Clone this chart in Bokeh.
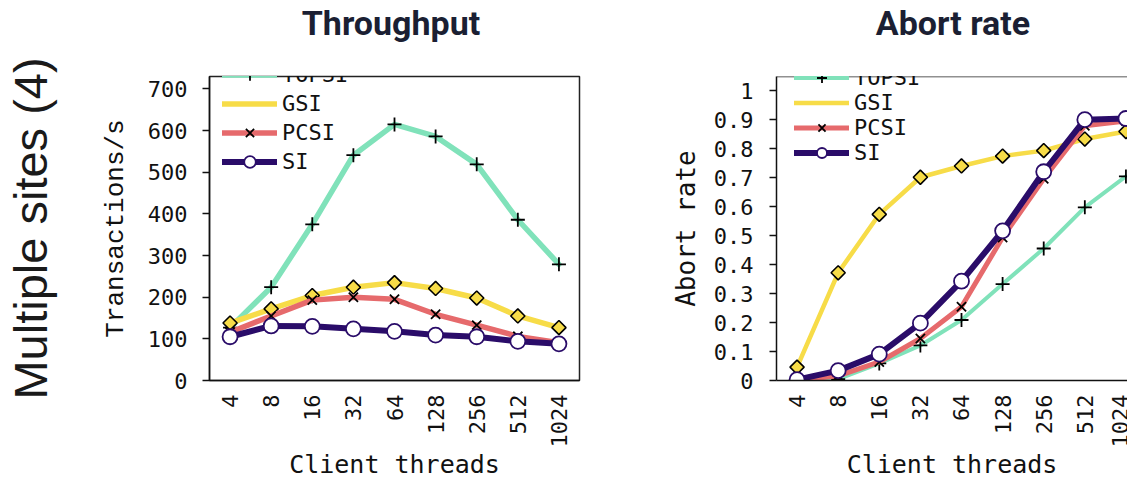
import math
from bokeh.plotting import figure
from bokeh.layouts import row, column
from bokeh.models import (FixedTicker, Legend, LegendItem, Span, Div,
                          CustomJSTickFormatter, ColumnDataSource)
from bokeh.embed import file_html
from bokeh.resources import INLINE

# ---------------- data ----------------
threads = ["4", "8", "16", "32", "64", "128", "256", "512", "1024"]
series = ["TOPSI", "GSI", "PCSI", "SI"]
titles = ["Throughput", "Abort rate"]

tp_topsi = [127, 224, 375, 541, 615, 586, 519, 386, 279]
tp_gsi = [138, 172, 204, 224, 235, 221, 198, 155, 127]
tp_pcsi = [116, 155, 193, 200, 195, 159, 133, 106, 91]
tp_si = [105, 131, 130, 124, 118, 109, 105, 94, 88]

ab_topsi = [0.0, 0.005, 0.059, 0.121, 0.209, 0.333, 0.456, 0.598, 0.705]
ab_gsi = [0.046, 0.372, 0.574, 0.702, 0.741, 0.775, 0.794, 0.834, 0.860]
ab_pcsi = [0.0, 0.016, 0.064, 0.145, 0.255, 0.494, 0.697, 0.880, 0.896]
ab_si = [0.003, 0.034, 0.091, 0.198, 0.343, 0.517, 0.721, 0.901, 0.905]

tp_ticks = [0, 100, 200, 300, 400, 500, 600, 700]
ab_ticks = [0, 0.1, 0.2, 0.3, 0.4, 0.5, 0.6, 0.7, 0.8, 0.9, 1.0]

# ---------------- style ----------------
COLORS = {"TOPSI": "#80e2ba", "GSI": "#f7dc48", "PCSI": "#e66a6c", "SI": "#2a0c69"}
MONO = "DejaVu Sans Mono"
INK = "#111111"
TITLE_INK = "#1b1f33"
idx = list(range(len(threads)))
TOP = 52          # height of the title strip
H = 482 - TOP     # height of the plot row


def hide_title(p):
    p.title.text_font_size = "0px"
    p.title.standoff = 0
    p.title.visible = False


def style_axes(p, y_ticks, y_formatter=None, y_label="", y_label_font=MONO,
               y_label_standoff=14, y_tick_standoff=15):
    xa = p.below[0]
    xa.ticker = FixedTicker(ticks=idx)
    xa.major_label_overrides = {i: t for i, t in enumerate(threads)}
    xa.major_label_orientation = math.pi / 2
    xa.major_tick_out = 0
    xa.major_tick_in = 0
    xa.minor_tick_line_color = None
    xa.major_label_standoff = 14
    xa.major_label_text_font = MONO
    xa.major_label_text_font_size = "22px"
    xa.major_label_text_color = INK
    xa.axis_line_color = "#111111"
    xa.axis_line_width = 1.5
    xa.axis_label = "Client threads"
    xa.axis_label_text_font = MONO
    xa.axis_label_text_font_size = "25px"
    xa.axis_label_text_font_style = "normal"
    xa.axis_label_text_color = INK
    xa.axis_label_standoff = 0

    ya = p.left[0]
    ya.ticker = FixedTicker(ticks=y_ticks)
    if y_formatter is not None:
        ya.formatter = y_formatter
    ya.major_tick_out = 7
    ya.major_tick_in = 0
    ya.major_tick_line_width = 1.5
    ya.major_tick_line_color = "#111111"
    ya.minor_tick_line_color = None
    ya.major_label_standoff = y_tick_standoff
    ya.major_label_text_font = MONO
    ya.major_label_text_font_size = "22px"
    ya.major_label_text_color = INK
    ya.axis_line_color = "#111111"
    ya.axis_line_width = 1.5
    ya.axis_label = y_label
    ya.axis_label_text_font = y_label_font
    ya.axis_label_text_font_size = "26px"
    ya.axis_label_text_font_style = "normal"
    ya.axis_label_text_color = INK
    ya.axis_label_standoff = y_label_standoff

    p.xgrid.grid_line_color = None
    p.ygrid.grid_line_color = None


def add_series(p, ys, widths):
    items = []
    for name, y, w in zip(series, ys, widths):
        src = ColumnDataSource(dict(x=idx, y=y))
        col = COLORS[name]
        ln = p.line("x", "y", source=src, line_color=col, line_width=w,
                    line_cap="round", line_join="round")
        if name == "TOPSI":
            mk = p.scatter("x", "y", source=src, marker="cross", size=14,
                           line_color="#000000", line_width=1.8)
            lg = mk
        elif name == "GSI":
            mk = p.scatter("x", "y", source=src, marker="square", angle=math.pi / 4,
                           size=10, fill_color=col, line_color="#000000", line_width=1.6)
            lg = p.scatter(x=[], y=[], marker="diamond", size=14, fill_color=col,
                           line_color="#000000", line_width=1.6)
        elif name == "PCSI":
            mk = p.scatter("x", "y", source=src, marker="x", size=13,
                           line_color="#000000", line_width=1.8)
            lg = mk
        else:
            mk = p.scatter("x", "y", source=src, marker="circle", size=15,
                           fill_color="#ffffff", line_color=col, line_width=1.8)
            lg = mk
        items.append(LegendItem(label=name, renderers=[ln, lg]))
    return items


def make_legend(items, loc, gh):
    lg = Legend(items=items, location=loc, orientation="vertical")
    lg.glyph_width = 55
    lg.glyph_height = gh
    lg.label_height = gh
    lg.spacing = 0
    lg.padding = 0
    lg.margin = 0
    lg.label_standoff = 5
    lg.label_text_font = MONO
    lg.label_text_font_size = "22px"
    lg.label_text_color = INK
    lg.border_line_color = None
    lg.background_fill_alpha = 0
    return lg


# ---------------- title strip ----------------
span_tpl = ('<span style="position:absolute;left:{x}px;top:0px;transform:translateX(-50%);'
            'white-space:nowrap;">{t}</span>')
title_html = (
    '<div style="position:relative;width:1127px;height:%dpx;font-family:Roboto,sans-serif;'
    'font-weight:bold;font-size:34px;line-height:46px;color:%s;">' % (TOP, TITLE_INK)
    + span_tpl.format(x=391, t=titles[0])
    + span_tpl.format(x=953, t=titles[1])
    + '</div>'
)
title_div = Div(text=title_html, width=1127, height=TOP, margin=0)

# ---------------- row label ----------------
p0 = figure(width=80, height=H, x_range=(0, 1), y_range=(0, 1),
            output_backend="svg", toolbar_location=None,
            min_border_left=14, min_border_right=0,
            min_border_top=24, min_border_bottom=70)
hide_title(p0)
p0.outline_line_color = None
p0.xaxis.visible = False
p0.xgrid.grid_line_color = None
p0.ygrid.grid_line_color = None
a0 = p0.left[0]
a0.ticker = FixedTicker(ticks=[])
a0.major_tick_line_color = None
a0.minor_tick_line_color = None
a0.axis_line_color = None
a0.major_label_text_font_size = "0px"
a0.axis_label = "Multiple sites (4)"
a0.axis_label_text_font = "Liberation Sans"
a0.axis_label_text_font_style = "normal"
a0.axis_label_text_font_size = "47px"
a0.axis_label_text_color = "#1a1a1a"
a0.axis_label_standoff = 0

# ---------------- left: Throughput ----------------
p1 = figure(width=528, height=H, x_range=(-0.5, 8.5), y_range=(0, 730),
            output_backend="svg", toolbar_location=None,
            min_border_left=129, min_border_right=29,
            min_border_top=56 - TOP, min_border_bottom=101)
hide_title(p1)
p1.outline_line_color = "#222222"
p1.outline_line_width = 1.5
p1.outline_line_alpha = 1
style_axes(p1, tp_ticks, y_label="Transactions/s", y_label_font="Liberation Mono",
           y_label_standoff=14, y_tick_standoff=15)
items1 = add_series(p1, [tp_topsi, tp_gsi, tp_pcsi, tp_si], [5.5, 5.5, 5.5, 6])
p1.add_layout(make_legend(items1, (13, 204), 29))

# ---------------- right: Abort rate ----------------
p2 = figure(width=519, height=H, x_range=(-0.5, -0.5 + 351 / 41.11), y_range=(0, 1.05),
            output_backend="svg", toolbar_location=None,
            min_border_left=168, min_border_right=0,
            min_border_top=54 - TOP, min_border_bottom=102)
hide_title(p2)
p2.outline_line_color = None
fmt = CustomJSTickFormatter(code="return (Math.round(tick*10)/10).toString();")
style_axes(p2, ab_ticks, y_formatter=fmt, y_label="Abort rate",
           y_label_standoff=10, y_tick_standoff=16)
items2 = add_series(p2, [ab_topsi, ab_gsi, ab_pcsi, ab_si], [4, 4.5, 5, 6])
p2.add_layout(make_legend(items2, (18, 215), 25))
p2.add_layout(Span(location=1.05, dimension="width", line_color="#222222", line_width=1.5))

layout = column(title_div, row(p0, p1, p2), spacing=0)
open("out.html", "w").write(file_html(layout, INLINE))
